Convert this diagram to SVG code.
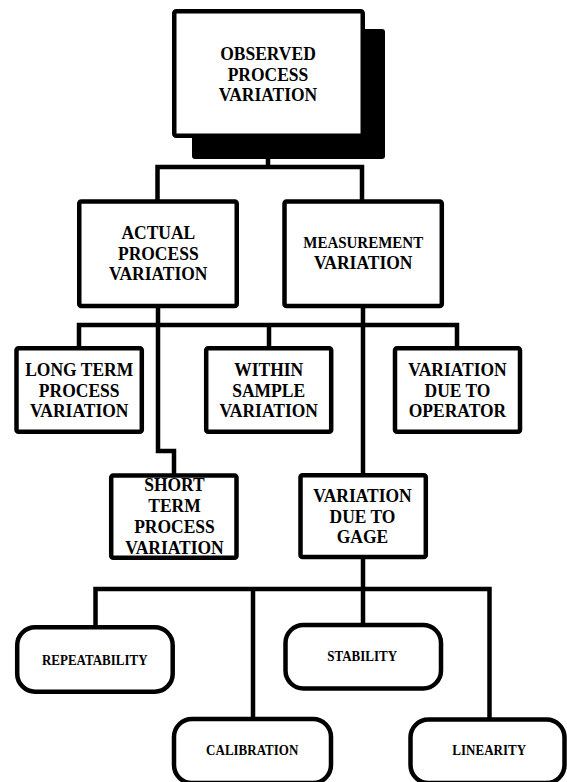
<svg xmlns="http://www.w3.org/2000/svg" width="567" height="782" viewBox="0 0 567 782">
  <style>
    .box { fill: #fff; stroke: #000; stroke-width: 4.5; stroke-linejoin: round; }
    .shadow { fill: #000; }
    .wire { fill: none; stroke: #000; stroke-width: 4.5; stroke-linejoin: miter; }
    text { font-family: "Liberation Serif", "Times New Roman", serif; font-weight: bold; fill: #000; text-anchor: middle;
           transform-box: fill-box; transform-origin: center; transform: scaleY(1.1); }
    .lg { font-size: 17.5px; }
    .md { font-size: 15px; }
    .sm { font-size: 13px; }
  </style>

  <!-- connectors -->
  <g id="connectors" class="wire">
    <path d="M268 158 V167 M157.5 201 V167 H362 V201"/>
    <path d="M158 306 V451 H174 V475"/>
    <path d="M79 348 V325 H457 V348 M269 325 V348"/>
    <path d="M363 306 V475"/>
    <path d="M363 557 V589"/>
    <path d="M95.5 627 V589 H489.5 V719 M253 589 V719 M363 589 V625"/>
  </g>

  <g id="observed">
    <rect class="shadow" x="192" y="29" width="193" height="130" rx="3"/>
    <rect class="box" x="174.25" y="11.25" width="188.5" height="124.5" rx="2"/>
    <text class="lg" x="268" y="59">OBSERVED</text>
    <text class="lg" x="268" y="80">PROCESS</text>
    <text class="lg" x="268" y="100.5">VARIATION</text>
  </g>

  <g id="actual">
    <rect class="box" x="79.25" y="201.5" width="157.5" height="104.5" rx="2"/>
    <text class="lg" x="158.3" y="238.5">ACTUAL</text>
    <text class="lg" x="158.3" y="259">PROCESS</text>
    <text class="lg" x="158.3" y="279">VARIATION</text>
  </g>

  <g id="measurement">
    <rect class="box" x="284.5" y="201.5" width="157.3" height="104.5" rx="2"/>
    <text class="md" x="363.2" y="247.3">MEASUREMENT</text>
    <text class="lg" x="363.2" y="268.7">VARIATION</text>
  </g>

  <g id="long-term">
    <rect class="box" x="16.5" y="348.2" width="125.3" height="83.5" rx="2"/>
    <text class="lg" x="79.2" y="375">LONG TERM</text>
    <text class="lg" x="79.2" y="396">PROCESS</text>
    <text class="lg" x="79.2" y="416.5">VARIATION</text>
  </g>

  <g id="within-sample">
    <rect class="box" x="206.2" y="348.2" width="125" height="83.5" rx="2"/>
    <text class="lg" x="268.7" y="375">WITHIN</text>
    <text class="lg" x="268.7" y="396">SAMPLE</text>
    <text class="lg" x="268.7" y="416.5">VARIATION</text>
  </g>

  <g id="operator">
    <rect class="box" x="395" y="348.2" width="125" height="83.5" rx="2"/>
    <text class="lg" x="457.5" y="375">VARIATION</text>
    <text class="lg" x="457.5" y="396">DUE TO</text>
    <text class="lg" x="457.5" y="416.5">OPERATOR</text>
  </g>

  <g id="short-term">
    <rect class="box" x="111.2" y="475.5" width="125.3" height="82.3" rx="2"/>
    <text class="lg" x="174.5" y="490.5">SHORT</text>
    <text class="lg" x="174.5" y="511.5">TERM</text>
    <text class="lg" x="174.5" y="532.5">PROCESS</text>
    <text class="lg" x="174.5" y="553.3">VARIATION</text>
  </g>

  <g id="gage">
    <rect class="box" x="300.5" y="475.3" width="125.3" height="81.8" rx="2"/>
    <text class="lg" x="362.5" y="501.5">VARIATION</text>
    <text class="lg" x="362.5" y="522">DUE TO</text>
    <text class="lg" x="362.5" y="542.5">GAGE</text>
  </g>

  <g id="repeatability">
    <rect class="box" x="17.2" y="627.2" width="155.5" height="64.5" rx="18"/>
    <text class="sm" x="94.8" y="664.3">REPEATABILITY</text>
  </g>

  <g id="stability">
    <rect class="box" x="285.5" y="625" width="155.5" height="63.5" rx="18"/>
    <text class="sm" x="362.2" y="661">STABILITY</text>
  </g>

  <g id="calibration">
    <rect class="box" x="174" y="719" width="157" height="64" rx="18"/>
    <text class="sm" x="252.2" y="755">CALIBRATION</text>
  </g>

  <g id="linearity">
    <rect class="box" x="410.5" y="719.5" width="154" height="63.5" rx="18"/>
    <text class="sm" x="489.2" y="755">LINEARITY</text>
  </g>
</svg>
